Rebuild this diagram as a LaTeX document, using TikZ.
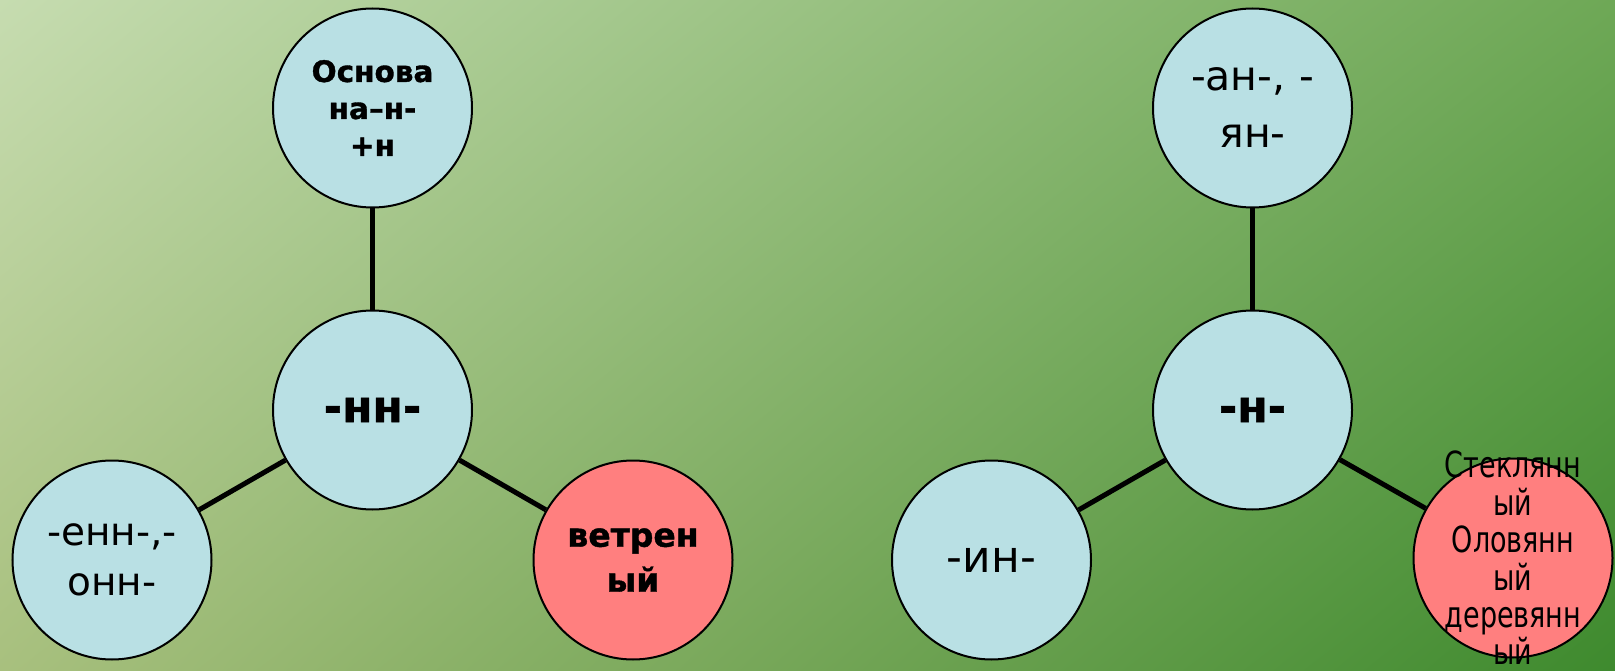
\documentclass[tikz,border=0pt]{standalone}
\usepackage{fontspec}
\setmainfont{DejaVu Sans}[BoldFeatures={FakeBold=1.2}]
\newfontfamily\narrowfont[FakeStretch=0.75]{DejaVu Sans}
\usetikzlibrary{shadings}
\definecolor{bgtl}{HTML}{C6DCB0}
\definecolor{bgtr}{HTML}{6EA856}
\definecolor{bgbl}{HTML}{A8C07E}
\definecolor{bgbr}{HTML}{3E8A2E}
\definecolor{pale}{HTML}{B9E0E4}
\definecolor{rose}{HTML}{FF7F7F}

\begin{document}
\begin{tikzpicture}[
  x=1pt,y=-1pt,
  disc/.style={circle,draw,line width=2pt,minimum size=199pt,inner sep=0pt,
               align=center,fill=#1},
  link/.style={line width=5pt},
  reg/.style={font=\fontsize{39}{50}\selectfont},
  wide/.style={font=\fontsize{41}{57}\selectfont},
  solo/.style={font=\fontsize{44}{53}\selectfont},
  big/.style={font=\fontsize{44}{53}\bfseries\selectfont},
  small/.style={font=\fontsize{29.5}{37}\bfseries\selectfont},
  mid/.style={font=\fontsize{33}{45}\bfseries\selectfont},
  tight/.style={font=\fontsize{36}{37.4}\narrowfont\selectfont,align=center},
]

% --- background ---
\useasboundingbox (0,0) rectangle (1615,671);
\shade[upper left=bgtl,upper right=bgtr,lower left=bgbl,lower right=bgbr]
  (0,0) rectangle (1615,671);

% --- left group: -нн- ---
\node[disc=pale,small] (nntop) at (372.5,108) {Основа\\на–н-\\+н};
\node[disc=pale,big]   (nn)    at (372.5,410) {-нн-};
\node[disc=pale,reg]   (nnl)   at (112,560)   {-енн-,-\\онн-};
\node[disc=rose,mid]   (nnr)   at (633,560)   {ветрен\\ый};

% --- right group: -н- ---
\node[disc=pale,wide] (ntop) at (1252.5,108) {-ан-,\,\,-\\ян-};
\node[disc=pale,big]  (n)    at (1252.5,410) {-н-};
\node[disc=pale,solo] (nl)   at (991.5,560)  {-ин-};
\node[disc=rose]      (nr)   at (1513,558)   {};
\node[tight]          (nrtxt) at (nr) {Стеклянн\\ый\\Оловянн\\ый\\деревянн\\ый};

% --- connectors ---
\draw[link] (nntop) -- (nn);
\draw[link] (nn) -- (nnl);
\draw[link] (nn) -- (nnr);
\draw[link] (ntop) -- (n);
\draw[link] (n) -- (nl);
\draw[link] (n) -- (nr);

\end{tikzpicture}
\end{document}
